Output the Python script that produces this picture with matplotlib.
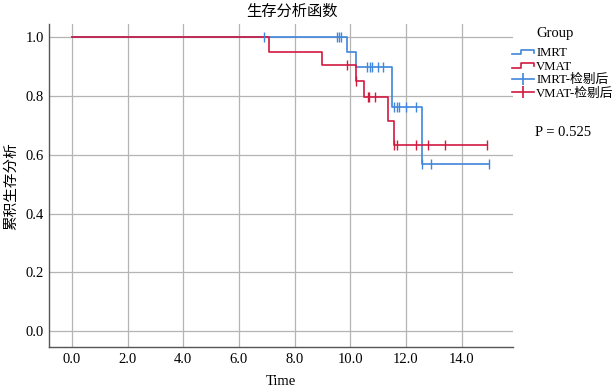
import numpy as np
import matplotlib
matplotlib.use("Agg")
import matplotlib.pyplot as plt
from matplotlib.lines import Line2D
from matplotlib.legend_handler import HandlerBase

plt.rcParams['font.family'] = ['Liberation Serif', 'Noto Sans CJK SC']

# ---- data ----
imrt_times = [0.0, 9.88, 10.2, 11.5, 12.59, 15.0]
imrt_surv = [1.0, 0.949, 0.90, 0.762, 0.569, 0.569]
imrt_censor = [6.9, 9.51, 9.59, 9.68, 10.60, 10.71, 10.79, 11.0, 11.19,
               11.58, 11.67, 11.76, 11.99, 12.38, 12.59, 12.9, 15.0]

vmat_times = [0.0, 7.09, 8.99, 10.19, 10.49, 11.37, 11.58, 14.9]
vmat_surv = [1.0, 0.951, 0.907, 0.851, 0.796, 0.716, 0.635, 0.635]
vmat_censor = [9.89, 10.19, 10.62, 10.69, 10.89, 11.58, 11.67, 12.38,
               12.80, 13.40, 14.9]

groups = ["IMRT", "VMAT"]
censor_labels = ["IMRT-检剔后", "VMAT-检剔后"]
xticks = [0, 2, 4, 6, 8, 10, 12, 14]
yticks = [0.0, 0.2, 0.4, 0.6, 0.8, 1.0]
p_text = "P = 0.525"

blue = '#3f86dc'
red = '#d21a40'

def surv_at(times, surv, t):
    idx = np.searchsorted(times, t, side='right') - 1
    return np.asarray(surv)[idx]

W, H = 615, 389
fig = plt.figure(figsize=(W/100, H/100), dpi=100)
ax = fig.add_axes([49/W, 1-347/H, (513-49)/W, (347-24)/H])

for times, surv, cens, col in [(imrt_times, imrt_surv, imrt_censor, blue),
                               (vmat_times, vmat_surv, vmat_censor, red)]:
    ax.step(times, surv, where='post', color=col, lw=1.2, zorder=3)
    ax.plot(cens, surv_at(times, surv, cens), ls='none', marker='|',
            ms=7, mew=1.0, color=col, zorder=4)

ax.set_xlim(-0.83, 15.85)
ax.set_ylim(-0.054, 1.045)
ax.set_xticks(xticks)
ax.set_xticklabels([f"{v:.1f}" for v in xticks])
ax.set_yticks(yticks)
ax.set_yticklabels([f"{v:.1f}" for v in yticks])
ax.grid(True, color='#b4b4b4', lw=0.9)
ax.set_axisbelow(True)
ax.tick_params(length=0, labelsize=10.5, colors='black')
ax.tick_params(axis='x', pad=4.5)
ax.tick_params(axis='y', pad=3.6)
for s in ['top', 'right']:
    ax.spines[s].set_visible(False)
for s in ['left', 'bottom']:
    ax.spines[s].set_color('#555555')
    ax.spines[s].set_linewidth(1.0)

ax.set_xlabel("Time", fontsize=10.5)
ax.xaxis.set_label_coords(0.5, 1 - (381-24)/(347-24))
ax.xaxis.label.set_va('center')
ax.set_ylabel("累积生存分析", fontsize=10.5)
ax.yaxis.set_label_coords((11-49)/(513-49), 1 - (186-24)/(347-24))
ax.yaxis.label.set_va('center')
fig.text(292/W, 1-12/H, "生存分析函数", ha='center', va='center', fontsize=11)


class StepHandler(HandlerBase):
    def create_artists(self, legend, orig_handle, xdescent, ydescent,
                       width, height, fontsize, trans):
        x0 = -xdescent
        y0 = -ydescent
        xs = [x0, x0 + 0.4*width, x0 + 0.4*width, x0 + width, x0 + width]
        ys = [y0 + 0.2*height, y0 + 0.2*height, y0 + 0.7*height,
              y0 + 0.7*height, y0 + 0.35*height]
        ln = Line2D(xs, ys, color=orig_handle.get_color(), lw=1.2)
        ln.set_transform(trans)
        return [ln]


h1 = Line2D([], [], color=blue)
h2 = Line2D([], [], color=red)
h3 = Line2D([], [], color=blue, marker='|', ms=9, mew=1.2, lw=1.2)
h4 = Line2D([], [], color=red, marker='|', ms=9, mew=1.2, lw=1.2)
leg = fig.legend([h1, h2, h3, h4], groups + censor_labels,
                 handler_map={h1: StepHandler(), h2: StepHandler()},
                 loc='upper left', bbox_to_anchor=(512/W, 1-47/H),
                 frameon=False, fontsize=9.2, handlelength=1.75,
                 handletextpad=0.15, labelspacing=0.12, borderaxespad=0,
                 borderpad=0)

fig.text(536/W, 1-33/H, "Group", ha='left', va='center', fontsize=10.5)
fig.text(535/W, 1-133/H, p_text, ha='left', va='center', fontsize=10.5)

fig.savefig("out.png", dpi=100)
